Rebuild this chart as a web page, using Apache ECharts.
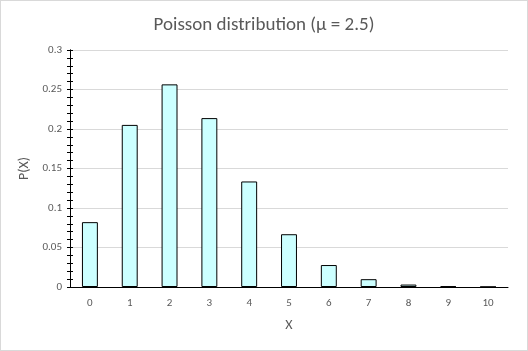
<!DOCTYPE html>
<html>
<head>
<meta charset="UTF-8">
<title>Poisson distribution</title>
<script src="https://cdn.jsdelivr.net/npm/echarts@6/dist/echarts.min.js"></script>
<style>
  html, body { margin: 0; padding: 0; background: #fff; }
  #chart { width: 528px; height: 351px; box-sizing: border-box; border: 1px solid #d9d9d9; }
</style>
</head>
<body>
<div id="chart"></div>
<script>
// data
const xValues = ['0', '1', '2', '3', '4', '5', '6', '7', '8', '9', '10'];
const probabilities = [0.0821, 0.2052, 0.2565, 0.2138, 0.1336, 0.0668, 0.0278, 0.0099, 0.0031, 0.0009, 0.0002];
const yTicks = [0, 0.05, 0.1, 0.15, 0.2, 0.25, 0.3];

const chart = echarts.init(document.getElementById('chart'));
const textColor = '#595959';
const font = 'Calibri, Carlito, "Liberation Sans", "Open Sans", sans-serif';

const yBase = {
  type: 'value',
  min: yTicks[0],
  max: yTicks[yTicks.length - 1],
  interval: 0.05,
  axisLine: { show: true, lineStyle: { color: '#000', width: 1 } },
  minorTick: { show: true, splitNumber: 5, length: 3, lineStyle: { color: '#000' } },
  axisTick: { show: true, length: 3, lineStyle: { color: '#000' } }
};

chart.setOption({
  animation: false,
  title: {
    text: 'Poisson distribution (\u03bc = 2.5)',
    left: 'center',
    top: 10,
    textStyle: { color: textColor, fontSize: 19, fontWeight: 'normal', fontFamily: font }
  },
  grid: { left: 69, right: 19, top: 49, bottom: 63 },
  xAxis: {
    type: 'category',
    data: xValues,
    name: 'X',
    nameLocation: 'middle',
    nameGap: 31,
    nameTextStyle: { color: textColor, fontSize: 14, fontFamily: font },
    axisLine: { lineStyle: { color: '#000', width: 1 } },
    axisTick: { show: false },
    axisLabel: { color: textColor, fontSize: 11, margin: 11, fontFamily: font }
  },
  yAxis: [
    Object.assign({}, yBase, {
      name: 'P(X)',
      nameLocation: 'middle',
      nameGap: 35,
      nameTextStyle: { color: textColor, fontSize: 14, fontFamily: font },
      axisLabel: { color: textColor, fontSize: 11, margin: 8, fontFamily: font },
      splitLine: { show: true, lineStyle: { color: '#d9d9d9', width: 1 } }
    }),
    Object.assign({}, yBase, {
      position: 'left',
      axisTick: { show: true, inside: true, length: 3, lineStyle: { color: '#000' } },
      minorTick: { show: true, splitNumber: 5, length: 3, lineStyle: { color: '#000' } },
      axisLabel: { show: false },
      splitLine: { show: false }
    })
  ],
  series: [{
    type: 'bar',
    data: probabilities,
    barWidth: '40%',
    itemStyle: { color: '#ccffff', borderColor: '#000', borderWidth: 1 }
  }]
});
</script>
</body>
</html>
